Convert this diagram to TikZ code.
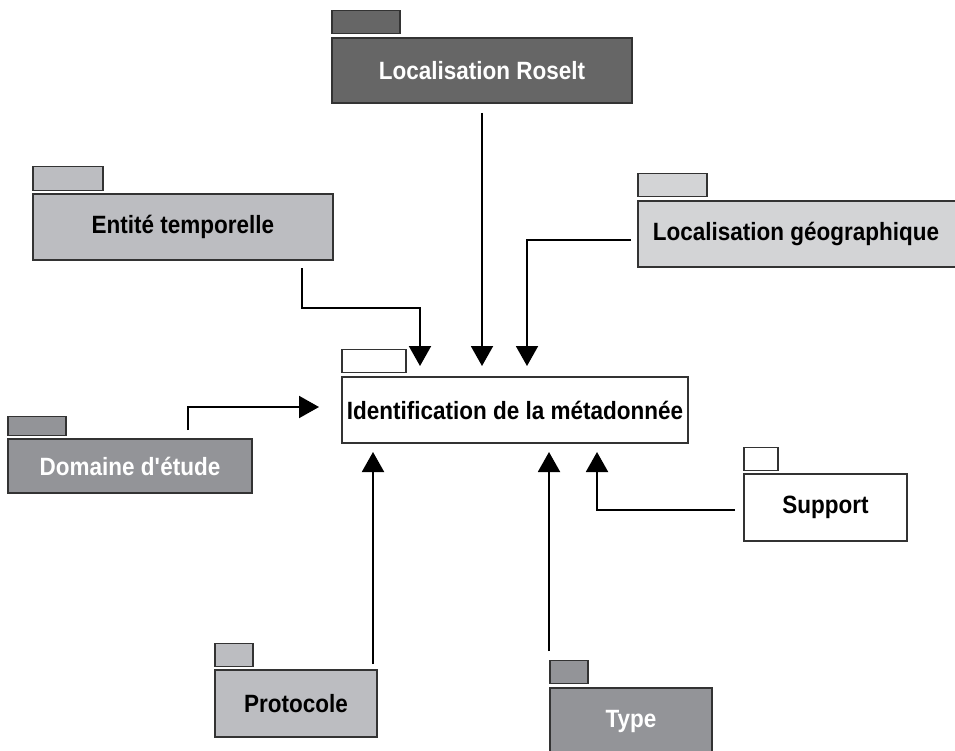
\documentclass[tikz,border=0pt]{standalone}
\usepackage{fontspec}
\setmainfont{Liberation Sans}[FakeStretch=0.9]
\usetikzlibrary{arrows.meta,positioning}

\definecolor{pkgdark}{HTML}{666666}
\definecolor{pkgmid}{HTML}{939498}
\definecolor{pkglight}{HTML}{BCBDC1}
\definecolor{pkgpale}{HTML}{D3D4D6}

\tikzset{
  pkg/.style={draw=black!80, line width=1.5pt, minimum height=66pt, inner sep=0pt,
    font=\bfseries\fontsize{25}{30}\selectfont},
  pkgtab/.style={draw=black!80, line width=1.5pt, minimum height=23pt, inner sep=0pt,
    anchor=south west},
  link/.style={line width=2pt, -{Triangle[length=20pt,width=22pt]}}
}

\begin{document}
\begin{tikzpicture}[x=1pt,y=-1pt]
    \useasboundingbox (0,0) rectangle (955,751);

    % packages
    \node[pkg, fill=pkgdark, text=white, minimum width=300pt, minimum height=65pt] (roselt) at (482,70.5) {Localisation Roselt};
    \node[pkg, fill=pkglight, minimum width=300pt] (temp) at (183,227) {Entité temporelle};
    \node[pkg, fill=pkgpale, minimum width=322pt] (geo) at (799,234) {};
    \node[font=\bfseries\fontsize{25}{30}\selectfont] at (796,234) {Localisation géographique};
    \node[pkg, fill=white, minimum width=346pt] (ident) at (515,410) {Identification de la métadonnée};
    \node[pkg, fill=pkgmid, text=white, minimum width=244pt, minimum height=54pt] (dom) at (130,466) {Domaine d\textquotesingle étude};
    \node[pkg, fill=white, minimum width=163pt, minimum height=67pt] (support) at (825.5,507.5) {Support};
    \node[pkg, fill=pkglight, minimum width=162pt, minimum height=67pt] (proto) at (296,703.5) {Protocole};
    \node[pkg, fill=pkgmid, text=white, minimum width=162pt, minimum height=67pt] (type) at (631,721.5) {Type};

    % tabs
    \node[pkgtab, fill=pkgdark, minimum width=68pt] (roselttab) at ([yshift=3pt]roselt.north west) {};
    \node[pkgtab, fill=pkglight, minimum width=70pt, minimum height=24pt] (temptab) at ([yshift=2pt]temp.north west) {};
    \node[pkgtab, fill=pkgpale, minimum width=69pt] (geotab) at ([yshift=3pt]geo.north west) {};
    \node[pkgtab, fill=white, minimum width=64pt] (identtab) at ([yshift=3pt]ident.north west) {};
    \node[pkgtab, fill=pkgmid, minimum width=58pt, minimum height=19pt] (domtab) at ([yshift=2pt]dom.north west) {};
    \node[pkgtab, fill=white, minimum width=34pt] (supporttab) at ([yshift=2pt]support.north west) {};
    \node[pkgtab, fill=pkglight, minimum width=38pt] (prototab) at ([yshift=2pt]proto.north west) {};
    \node[pkgtab, fill=pkgmid, minimum width=38pt] (typetab) at ([yshift=3pt]type.north west) {};

    % connector ends
    \coordinate (roseltout) at (482,113);
    \coordinate (roseltin) at (482,366);
    \coordinate (tempout) at (302,268);
    \coordinate (tempin) at (420,366);
    \coordinate (geoout) at (631,240);
    \coordinate (geoin) at (527,366);
    \coordinate (domout) at (188,430);
    \coordinate (domin) at (319,407);
    \coordinate (protoout) at (373,664);
    \coordinate (protoin) at (373,452);
    \coordinate (typeout) at (549,651);
    \coordinate (typein) at (549,452);
    \coordinate (supportout) at (735,510);
    \coordinate (supportin) at (597,452);

    % connectors
    \draw[link] (roseltout) -- (roseltin);
    \draw[link] (tempout) |- (420,308) -- (tempin);
    \draw[link] (geoout) -| (geoin);
    \draw[link] (domout) |- (domin);
    \draw[link] (protoout) -- (protoin);
    \draw[link] (typeout) -- (typein);
    \draw[link] (supportout) -| (supportin);
\end{tikzpicture}
\end{document}
